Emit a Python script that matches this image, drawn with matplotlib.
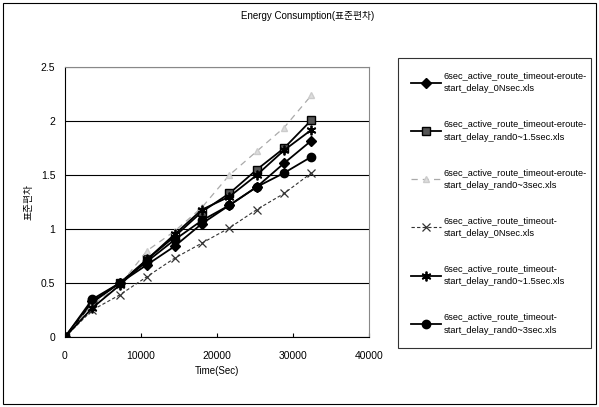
import matplotlib
matplotlib.use("Agg")
import matplotlib.pyplot as plt
from matplotlib.patches import Rectangle

plt.rcParams['font.family'] = ['Liberation Sans', 'Noto Sans CJK KR', 'DejaVu Sans']

time_sec = [0, 3600, 7200, 10800, 14400, 18000, 21600, 25200, 28800, 32400]
s1 = [0, 0.33, 0.50, 0.67, 0.84, 1.05, 1.22, 1.39, 1.61, 1.82]
s2 = [0, 0.32, 0.50, 0.72, 0.93, 1.16, 1.33, 1.55, 1.75, 2.01]
s3 = [0, 0.30, 0.48, 0.80, 0.98, 1.20, 1.50, 1.72, 1.94, 2.24]
s4 = [0, 0.25, 0.39, 0.56, 0.73, 0.87, 1.01, 1.18, 1.33, 1.52]
s5 = [0, 0.27, 0.48, 0.72, 0.95, 1.18, 1.30, 1.50, 1.73, 1.92]
s6 = [0, 0.35, 0.50, 0.70, 0.90, 1.08, 1.22, 1.39, 1.52, 1.67]

labels = [
    "6sec_active_route_timeout-eroute-\nstart_delay_0Nsec.xls",
    "6sec_active_route_timeout-eroute-\nstart_delay_rand0~1.5sec.xls",
    "6sec_active_route_timeout-eroute-\nstart_delay_rand0~3sec.xls",
    "6sec_active_route_timeout-\nstart_delay_0Nsec.xls",
    "6sec_active_route_timeout-\nstart_delay_rand0~1.5sec.xls",
    "6sec_active_route_timeout-\nstart_delay_rand0~3sec.xls",
]
title = "Energy Consumption(표준편차)"
xlabel = "Time(Sec)"
ylabel = "표준편차"

fig = plt.figure(figsize=(5.99, 4.07), dpi=100)
ax = fig.add_axes([0.1085, 0.172, 0.508, 0.663])

ax.plot(time_sec, s1, color='black', lw=1.3, marker='D', ms=5, label=labels[0])
ax.plot(time_sec, s2, color='black', lw=1.3, marker='s', ms=6, mfc='#555555', mec='black', label=labels[1])
ax.plot(time_sec, s3, color='#aaaaaa', lw=0.9, ls=(0, (5, 4)), marker='^', ms=4, mfc='#dddddd', mec='#cccccc', label=labels[2])
ax.plot(time_sec, s4, color='#333333', lw=0.8, ls=(0, (3, 2)), marker='x', ms=6, mew=0.9, label=labels[3])
ax.plot(time_sec, s5, color='black', lw=1.3, marker=(6, 2, 0), ms=7, mew=1.3, label=labels[4])
ax.plot(time_sec, s6, color='black', lw=1.3, marker='o', ms=6, label=labels[5])

ax.set_xlim(0, 40000)
ax.set_ylim(0, 2.5)
ax.set_xticks([0, 10000, 20000, 30000, 40000])
ax.set_yticks([0, 0.5, 1, 1.5, 2, 2.5])
ax.set_yticklabels(['0', '0.5', '1', '1.5', '2', '2.5'])
ax.yaxis.grid(True, color='black', lw=0.8)
ax.set_axisbelow(True)
for side in ['top', 'right']:
    ax.spines[side].set_color('#888888')
    ax.spines[side].set_linewidth(0.8)
for side in ['left', 'bottom']:
    ax.spines[side].set_color('black')
    ax.spines[side].set_linewidth(0.8)
ax.tick_params(axis='both', labelsize=7.5, length=3, direction='in', width=0.8)
ax.tick_params(axis='y', length=0, pad=7)
ax.tick_params(axis='x', pad=10)

ax.set_xlabel(xlabel, fontsize=7)
ax.set_ylabel(ylabel, fontsize=7, labelpad=5)
fig.text(0.514, 0.960, title, fontsize=7, ha='center', va='center')

leg = fig.legend(loc='upper left', bbox_to_anchor=(0.664, 0.857, 0.322, 0.0), mode='expand',
                 fontsize=6.7, frameon=True, fancybox=False, edgecolor='black',
                 handlelength=3.2, handletextpad=0.3, labelspacing=2.8, borderpad=1.4,
                 borderaxespad=0)
leg.get_frame().set_linewidth(0.8)
for t in leg.get_texts():
    t.set_linespacing(1.6)

fig.patches.append(Rectangle((0.005, 0.008), 0.99, 0.985, transform=fig.transFigure,
                             fill=False, edgecolor='black', lw=0.8))

fig.savefig('out.png', dpi=100)
